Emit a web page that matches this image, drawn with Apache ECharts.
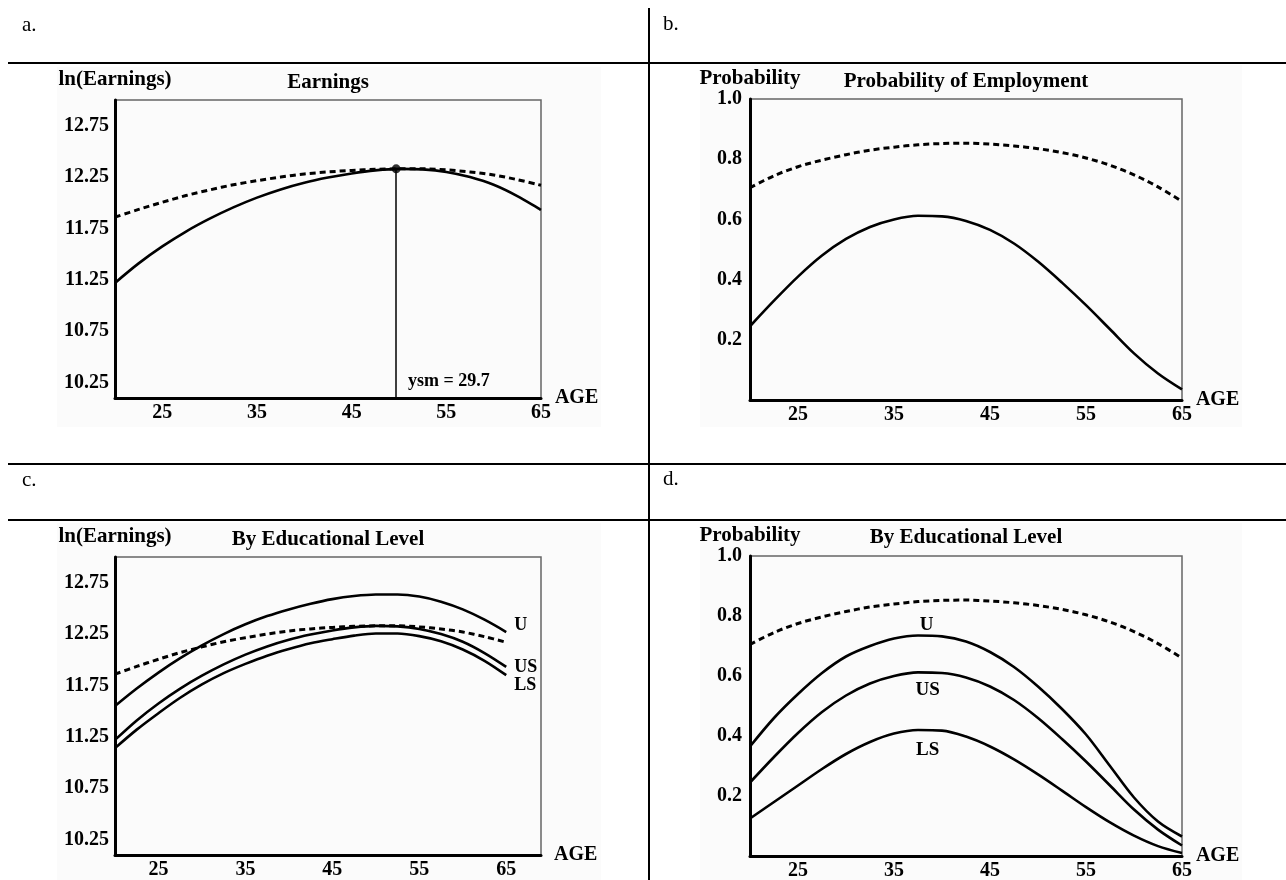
<!DOCTYPE html>
<html>
<head>
<meta charset="utf-8">
<script src="https://cdn.jsdelivr.net/npm/echarts@6/dist/echarts.min.js"></script>
<style>
html,body{margin:0;padding:0;background:#fff;}
#chart{width:1286px;height:880px;}
</style>
</head>
<body>
<div id="chart"></div>
<script>
// ---- data ----
const ages = [20, 22.5, 25, 27.5, 30, 32.5, 35, 37.5, 40, 42.5, 45, 47.5, 50, 52.5, 55, 57.5, 60, 62.5, 65];

// Panel a: earnings
const earnA      = [11.22, 11.41, 11.575, 11.72, 11.845, 11.955, 12.05, 12.13, 12.195, 12.245, 12.285, 12.315, 12.33, 12.325, 12.30, 12.25, 12.175, 12.065, 11.93];
const earnAllA   = [11.86, 11.935, 12.005, 12.07, 12.125, 12.175, 12.215, 12.25, 12.28, 12.30, 12.315, 12.325, 12.33, 12.33, 12.32, 12.30, 12.27, 12.225, 12.17];
const ysm = 29.7;
const ysmStartAge = 20;
const ysmEarnings = 12.33;

// Panel c: earnings by educational level
const earnU      = [11.55, 11.72, 11.875, 12.015, 12.14, 12.25, 12.345, 12.425, 12.49, 12.545, 12.59, 12.62, 12.635, 12.635, 12.615, 12.565, 12.49, 12.39, 12.27];
const earnUS     = [11.22, 11.41, 11.575, 11.72, 11.845, 11.955, 12.05, 12.13, 12.195, 12.245, 12.285, 12.315, 12.33, 12.325, 12.30, 12.25, 12.175, 12.065, 11.93];
const earnLS     = [11.14, 11.32, 11.48, 11.63, 11.76, 11.87, 11.96, 12.04, 12.105, 12.16, 12.20, 12.235, 12.255, 12.255, 12.23, 12.18, 12.10, 11.99, 11.85];
const earnAllC   = [11.86, 11.935, 12.005, 12.07, 12.125, 12.175, 12.215, 12.25, 12.28, 12.30, 12.315, 12.325, 12.33, 12.33, 12.32, 12.30, 12.27, 12.225, 12.17];

// Panel b: probability of employment
const probB      = [0.245, 0.33, 0.41, 0.48, 0.535, 0.575, 0.60, 0.612, 0.61, 0.595, 0.565, 0.52, 0.46, 0.39, 0.315, 0.235, 0.155, 0.088, 0.035];
const probAllB   = [0.705, 0.745, 0.775, 0.797, 0.815, 0.83, 0.84, 0.848, 0.852, 0.853, 0.85, 0.844, 0.835, 0.822, 0.804, 0.78, 0.748, 0.708, 0.66];

// Panel d: probability by educational level
const probU      = [0.365, 0.46, 0.54, 0.61, 0.665, 0.70, 0.725, 0.735, 0.732, 0.715, 0.68, 0.63, 0.565, 0.49, 0.405, 0.30, 0.195, 0.115, 0.065];
const probUS     = [0.245, 0.33, 0.41, 0.48, 0.535, 0.575, 0.60, 0.612, 0.61, 0.595, 0.565, 0.52, 0.46, 0.39, 0.315, 0.235, 0.155, 0.088, 0.035];
const probLS     = [0.125, 0.18, 0.235, 0.29, 0.34, 0.38, 0.408, 0.42, 0.418, 0.398, 0.365, 0.322, 0.272, 0.218, 0.163, 0.112, 0.068, 0.033, 0.01];
const probAllD   = [0.705, 0.745, 0.775, 0.797, 0.815, 0.83, 0.84, 0.848, 0.852, 0.853, 0.85, 0.844, 0.835, 0.822, 0.804, 0.78, 0.748, 0.708, 0.66];

// tick labels
const ageTicks  = [25, 35, 45, 55, 65];
const earnTicks = [10.25, 10.75, 11.25, 11.75, 12.25, 12.75];
const probTicks = [0.2, 0.4, 0.6, 0.8, 1.0];

// texts
const panelLetters = ['a.', 'b.', 'c.', 'd.'];
const titles = ['Earnings', 'Probability of Employment', 'By Educational Level', 'By Educational Level'];
const levelNames = ['U', 'US', 'LS'];

// ---- rendering ----
const FONT = '"Liberation Serif","Times New Roman",serif';
const pair = (ys) => ages.map((a, i) => [a, ys[i]]);

const grids = [
  {left: 115, top: 100, width: 426, height: 298},
  {left: 750, top: 99,  width: 432, height: 301},
  {left: 115, top: 557, width: 426, height: 298},
  {left: 750, top: 556, width: 432, height: 300}
];

const boldText = (size) => ({color: '#000', fontFamily: FONT, fontWeight: 'bold', fontSize: size});

function makeX(gi, max) {
  return {
    type: 'value', gridIndex: gi, min: 20, max: max,
    axisLine: {show: true, onZero: false, lineStyle: {color: '#000', width: 3}},
    axisTick: {show: false}, splitLine: {show: false},
    axisLabel: Object.assign({customValues: ageTicks, margin: 5}, boldText(20)),
    name: 'AGE', nameLocation: 'end', nameGap: 13,
    nameTextStyle: Object.assign({verticalAlign: 'middle', align: 'left'}, boldText(20))
  };
}
function makeY(gi, kind) {
  const earn = kind === 'earn';
  return {
    type: 'value', gridIndex: gi,
    min: earn ? 10.1 : 0, max: earn ? 13.0 : 1.0,
    axisLine: {show: true, onZero: false, lineStyle: {color: '#000', width: 3}},
    axisTick: {show: false}, splitLine: {show: false},
    axisLabel: Object.assign({
      customValues: earn ? earnTicks : probTicks,
      margin: earn ? 6 : 8,
      formatter: (v) => earn ? Number(v).toFixed(2) : Number(v).toFixed(1)
    }, boldText(20)),
    name: earn ? 'ln(Earnings)' : 'Probability', nameLocation: 'end', nameGap: 10,
    nameTextStyle: Object.assign({align: 'center', verticalAlign: 'bottom'}, boldText(21))
  };
}

const solid = {color: '#000', width: 2.6, type: 'solid'};
const dashed = {color: '#000', width: 3, type: [6, 4]};

function lineSeries(gi, ys, style, extra) {
  return Object.assign({
    type: 'line', xAxisIndex: gi, yAxisIndex: gi, data: pair(ys),
    showSymbol: false, symbol: 'none', smooth: 0.33, lineStyle: style,
    silent: true, z: 3
  }, extra || {});
}

const endLab = (txt, offY) => ({
  show: true, formatter: txt, distance: 8, offset: [0, offY],
  color: '#000', fontFamily: FONT, fontWeight: 'bold', fontSize: 18
});

const markLab = (txt, x, y) => ({
  coord: [x, y], value: txt,
  symbol: 'rect', symbolSize: 1, itemStyle: {color: 'rgba(0,0,0,0)'},
  label: {show: true, position: 'inside', formatter: txt, color: '#000', fontFamily: FONT, fontWeight: 'bold', fontSize: 19}
});

const peakAge = ysmStartAge + ysm;

const series = [
  // a
  lineSeries(0, earnAllA, dashed),
  lineSeries(0, earnA, solid, {
    markLine: {
      silent: true, symbol: ['none', 'arrow'], symbolSize: [0, 12],
      lineStyle: {color: '#000', width: 1.5, type: 'solid'}, label: {show: false},
      data: [[{coord: [peakAge, ysmEarnings]}, {coord: [peakAge, 10.1]}]]
    }
  }),
  {type: 'scatter', xAxisIndex: 0, yAxisIndex: 0, data: [[peakAge, ysmEarnings]],
   symbol: 'circle', symbolSize: 9, itemStyle: {color: '#000'}, silent: true, z: 5},
  // b
  lineSeries(1, probAllB, dashed),
  lineSeries(1, probB, solid),
  // c
  lineSeries(2, earnAllC, dashed),
  lineSeries(2, earnU, solid, {endLabel: endLab(levelNames[0], -7)}),
  lineSeries(2, earnUS, solid, {endLabel: endLab(levelNames[1], 0)}),
  lineSeries(2, earnLS, solid, {endLabel: endLab(levelNames[2], 10)}),
  // d
  lineSeries(3, probAllD, dashed),
  lineSeries(3, probU, solid, {markPoint: {silent: true, data: [
    markLab(levelNames[0], 38.4, 0.77),
    markLab(levelNames[1], 38.5, 0.553),
    markLab(levelNames[2], 38.5, 0.353)
  ]}}),
  lineSeries(3, probUS, solid),
  lineSeries(3, probLS, solid)
];

const titleOpts = titles.map((t, i) => ({
  text: t,
  left: grids[i].left + grids[i].width / 2,
  top: [72, 71, 529, 527][i],
  textAlign: 'center',
  textStyle: boldText(21),
  padding: 0
}));

const graphics = [];
// faint background of the embedded figures
[[57, 67, 544, 360], [700, 65, 542, 362], [57, 523, 544, 357], [700, 523, 542, 357]].forEach(r => {
  graphics.push({type: 'rect', shape: {x: r[0], y: r[1], width: r[2], height: r[3]}, style: {fill: '#fbfbfb'}, z: -10, silent: true});
});
// table rules
[63, 464, 520].forEach(y => graphics.push({type: 'line', shape: {x1: 8, y1: y, x2: 1286, y2: y}, style: {stroke: '#000', lineWidth: 2}, silent: true}));
graphics.push({type: 'line', shape: {x1: 649, y1: 8, x2: 649, y2: 880}, style: {stroke: '#000', lineWidth: 2}, silent: true});
// panel letters
[[22, 25], [663, 24], [22, 480], [663, 479]].forEach((p, i) => {
  graphics.push({type: 'text', x: p[0], y: p[1], silent: true,
    style: {text: panelLetters[i], fill: '#000', font: '21px ' + FONT, textVerticalAlign: 'middle', textAlign: 'left'}});
});
// ysm annotation
graphics.push({type: 'text', x: 408, y: 381, silent: true,
  style: {text: 'ysm = ' + ysm.toFixed(1), fill: '#000', font: 'bold 18px ' + FONT, textVerticalAlign: 'middle', textAlign: 'left'}});

const option = {
  animation: false,
  backgroundColor: '#fff',
  title: titleOpts,
  grid: grids.map(g => Object.assign({show: true, borderColor: '#666', borderWidth: 1.5, backgroundColor: 'transparent', containLabel: false, outerBoundsMode: 'none'}, g)),
  xAxis: [makeX(0, 65), makeX(1, 65), makeX(2, 69), makeX(3, 65)],
  yAxis: [makeY(0, 'earn'), makeY(1, 'prob'), makeY(2, 'earn'), makeY(3, 'prob')],
  series: series,
  graphic: graphics
};

const chart = echarts.init(document.getElementById('chart'), null, {renderer: 'canvas'});
chart.setOption(option);
</script>
</body>
</html>
